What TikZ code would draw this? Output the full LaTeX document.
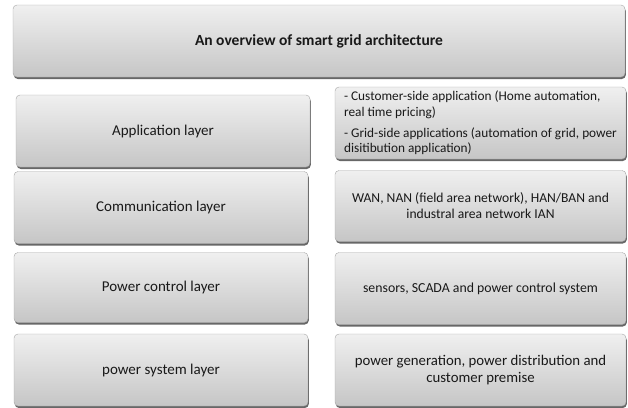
\documentclass[tikz,border=0pt]{standalone}
\usepackage{fontspec}
\setmainfont{Carlito}
\usetikzlibrary{shadows}

\tikzset{
    layerbox/.style={draw=gray!70, rounded corners=4pt, top color=gray!12, bottom color=gray!45,
        drop shadow={shadow xshift=0.8pt, shadow yshift=-2pt, opacity=0.7, fill=black!85},
        inner sep=2pt, align=center, text=black!90, font=\fontsize{15}{17}\selectfont},
}

\begin{document}
\begin{tikzpicture}[x=1pt, y=-1pt]
    \useasboundingbox (0,0) rectangle (628,407);

    % title
    \node[layerbox, minimum width=612pt, minimum height=72pt, font=\fontsize{15.5}{18}\selectfont\bfseries] (title) at (319,41) {An overview of smart grid architecture};

    % layers
    \node[layerbox, minimum width=294pt, minimum height=72pt] (app) at (163,131) {Application layer};
    \node[layerbox, minimum width=294pt, minimum height=72pt] (comm) at (161,207.5) {Communication layer};
    \node[layerbox, minimum width=294pt, minimum height=70pt] (pctl) at (161,287.5) {Power control layer};
    \node[layerbox, minimum width=294pt, minimum height=72pt] (psys) at (161,370) {power system layer};

    % descriptions
    \node[layerbox, minimum width=291pt, minimum height=72pt, align=left, font=\fontsize{13.3}{15.2}\selectfont] (appd) at (480.5,123) {- Customer-side application (Home automation,\\ real time pricing)\\[6pt] - Grid-side applications (automation of grid, power\\ disitibution application)};
    \node[layerbox, minimum width=291pt, minimum height=71pt, font=\fontsize{13.6}{16}\selectfont] (commd) at (480.5,206) {WAN, NAN (field area network), HAN/BAN and\\ industral area network IAN};
    \node[layerbox, minimum width=291pt, minimum height=72pt, font=\fontsize{13.8}{16}\selectfont] (pctld) at (480.5,288.5) {sensors, SCADA and power control system};
    \node[layerbox, minimum width=291pt, minimum height=72pt, font=\fontsize{14.8}{17.5}\selectfont] (psysd) at (480.5,370) {power generation, power distribution and\\ customer premise};
\end{tikzpicture}
\end{document}
